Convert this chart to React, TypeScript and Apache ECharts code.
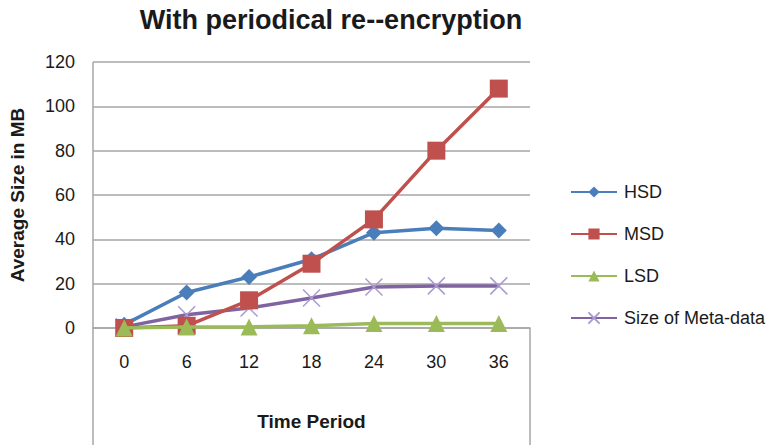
import React, { useEffect, useRef } from "react";
import * as echarts from "echarts";

const categories = ["0", "6", "12", "18", "24", "30", "36"];
const hsd = [1.5, 16, 23, 31, 43, 45, 44];
const msd = [0, 1, 12.5, 29, 49, 80, 108];
const lsd = [0, 0.5, 0.5, 1, 2, 2, 2];
const meta = [0.5, 6, 9, 13.5, 18.5, 19, 19];
const yTicks = { min: 0, max: 120, interval: 20 };

const crossPath = "path://M0,0L10,10M10,0L0,10";

export default function App() {
  const ref = useRef<HTMLDivElement>(null);
  useEffect(() => {
    const chart = echarts.init(ref.current!, null, { renderer: "svg" });
    const font = "'Liberation Sans', Arial, sans-serif";
    const gridColor = "#a6a6a6";
    const textColor = "#1a1a1a";
    chart.setOption({
      animation: false,
      textStyle: { fontFamily: font },
      title: {
        text: "With periodical re--encryption",
        left: 326,
        textAlign: "center",
        top: 1,
        textStyle: { fontSize: 27, fontWeight: "bold", color: textColor, fontFamily: font },
      },
      grid: { left: 93, right: 245, top: 62, bottom: 117 },
      legend: {
        orient: "vertical",
        left: 565,
        top: 178,
        itemWidth: 46,
        itemHeight: 14,
        itemGap: 24,
        textStyle: { fontSize: 18, color: textColor, fontFamily: font, padding: [0, 0, 0, 2] },
        data: ["HSD", "MSD", "LSD", "Size of Meta-data"],
      },
      xAxis: {
        type: "category",
        data: categories,
        boundaryGap: true,
        axisLine: { show: true, lineStyle: { color: gridColor, width: 1.5 } },
        axisTick: { show: false },
        axisLabel: { fontSize: 18, color: textColor, margin: 25, fontFamily: font },
        name: "Time Period",
        nameLocation: "middle",
        nameGap: 84,
        nameTextStyle: { fontSize: 19, fontWeight: "bold", color: textColor, fontFamily: font },
      },
      yAxis: {
        type: "value",
        min: yTicks.min,
        max: yTicks.max,
        interval: yTicks.interval,
        axisLine: { show: false },
        axisTick: { show: false },
        splitLine: { lineStyle: { color: gridColor, width: 1.5 } },
        axisLabel: { fontSize: 18, color: textColor, margin: 18, fontFamily: font },
        name: "Average Size in MB",
        nameLocation: "middle",
        nameGap: 66,
        nameTextStyle: { fontSize: 19, fontWeight: "bold", color: textColor, fontFamily: font },
      },
      graphic: [
        { type: "line", shape: { x1: 93, y1: 62, x2: 93, y2: 445 }, style: { stroke: gridColor, lineWidth: 1.5 }, z: 0 },
        { type: "line", shape: { x1: 530, y1: 328, x2: 530, y2: 445 }, style: { stroke: gridColor, lineWidth: 1.5 }, z: 0 },
      ],
      series: [
        {
          name: "HSD",
          type: "line",
          data: hsd,
          symbol: "diamond",
          symbolSize: 16,
          lineStyle: { color: "#4a7ebb", width: 3.5 },
          itemStyle: { color: "#4a7ebb" },
          z: 3,
        },
        {
          name: "MSD",
          type: "line",
          data: msd,
          symbol: "rect",
          symbolSize: 18,
          lineStyle: { color: "#c0504d", width: 3.5 },
          itemStyle: { color: "#c0504d" },
          z: 4,
        },
        {
          name: "LSD",
          type: "line",
          data: lsd,
          symbol: "triangle",
          symbolSize: 17,
          lineStyle: { color: "#9bbb59", width: 3.5 },
          itemStyle: { color: "#9bbb59" },
          z: 5,
        },
        {
          name: "Size of Meta-data",
          type: "line",
          data: meta,
          symbol: crossPath,
          symbolSize: 17,
          lineStyle: { color: "#8064a2", width: 3.5 },
          itemStyle: { color: "none", borderColor: "#a99bd0", borderWidth: 1.5 },
          z: 2,
        },
      ],
    });
    return () => chart.dispose();
  }, []);
  return <div ref={ref} style={{ width: 775, height: 445, position: "absolute", left: 0, top: 0 }} />;
}
